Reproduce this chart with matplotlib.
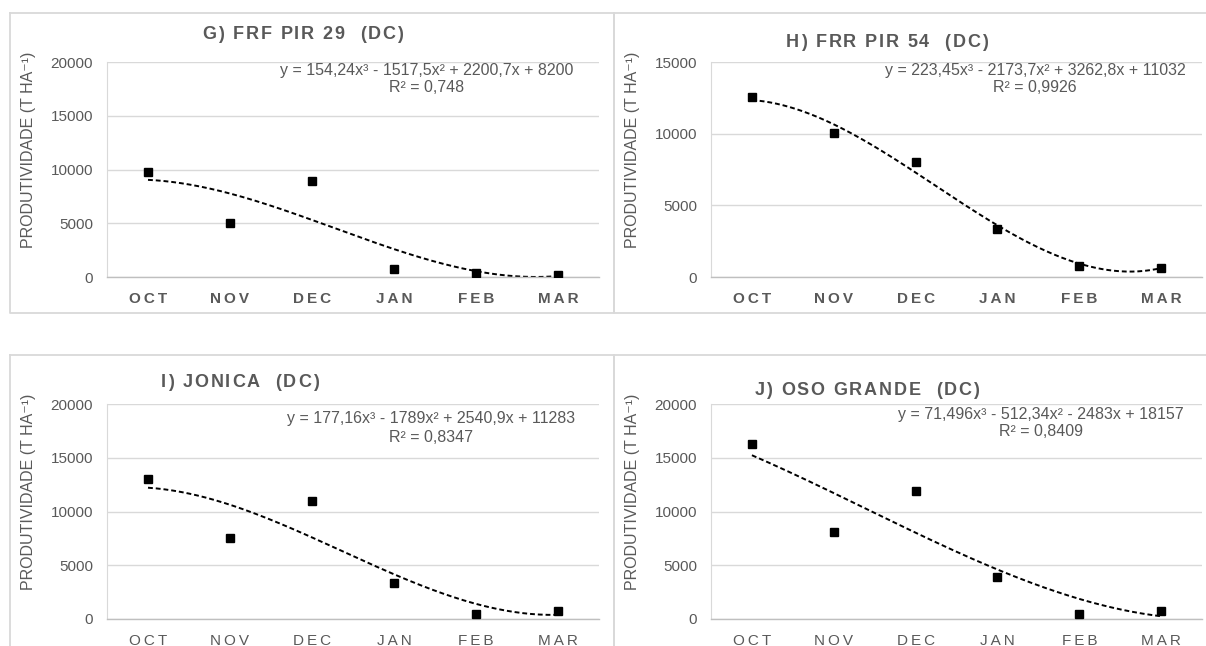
import numpy as np
import matplotlib
matplotlib.use("Agg")
import matplotlib.pyplot as plt
from matplotlib.lines import Line2D
from matplotlib.textpath import TextToPath
from matplotlib.font_manager import FontProperties

plt.rcParams['font.family'] = ['Liberation Sans', 'DejaVu Sans']

months = ["OCT", "NOV", "DEC", "JAN", "FEB", "MAR"]
titles = ["G) FRF PIR 29  (DC)", "H) FRR PIR 54  (DC)",
          "I) JONICA  (DC)", "J) OSO GRANDE  (DC)"]
g_vals = [9780, 5060, 8900, 780, 410, 220]
h_vals = [12540, 10080, 8040, 3330, 800, 660]
i_vals = [13030, 7500, 10940, 3340, 470, 750]
j_vals = [16310, 8060, 11880, 3940, 470, 750]
g_coef = [154.24, -1517.5, 2200.7, 8200]
h_coef = [223.45, -2173.7, 3262.8, 11032]
i_coef = [177.16, -1789, 2540.9, 11283]
j_coef = [71.496, -512.34, -2483, 18157]
equations = ["y = 154,24x³ - 1517,5x² + 2200,7x + 8200",
             "y = 223,45x³ - 2173,7x² + 3262,8x + 11032",
             "y = 177,16x³ - 1789x² + 2540,9x + 11283",
             "y = 71,496x³ - 512,34x² - 2483x + 18157"]
r2_texts = ["R² = 0,748", "R² = 0,9926", "R² = 0,8347", "R² = 0,8409"]
y_max = [20000, 15000, 20000, 20000]
y_step = [5000, 5000, 5000, 5000]
ylabel = "PRODUTIVIDADE (T HA⁻¹)"

W, H = 1206, 646
fig = plt.figure(figsize=(W / 100, H / 100), dpi=100)

def fx(x):
    return x / W

def fy(y):
    return 1 - y / H

ttp = TextToPath()

def spaced_text(xc, ybase, s, size, weight, spacing, color):
    fp = FontProperties(family='Liberation Sans', size=size, weight=weight)
    widths = []
    for c in s:
        w = ttp.get_text_width_height_descent(c, fp, ismath=False)[0]
        widths.append(w * 100 / 72)
    total = sum(widths) + spacing * (len(s) - 1)
    xpos = xc - total / 2
    for c, w in zip(s, widths):
        fig.text(fx(xpos), fy(ybase), c, ha='left', va='baseline',
                 fontproperties=fp, color=color)
        xpos += w + spacing

# panel frames (pixel coords: left, top, right, bottom)
frames = [(10, 13, 614, 313), (614, 13, 1210, 313),
          (10, 355, 614, 660), (614, 355, 1210, 660)]
for (l, t, r, b) in frames:
    xs = [fx(l), fx(r), fx(r), fx(l), fx(l)]
    ys = [fy(t), fy(t), fy(b), fy(b), fy(t)]
    fig.add_artist(Line2D(xs, ys, transform=fig.transFigure,
                          color='#d9d9d9', lw=1.3))

# axes rectangles (pixel coords: left, top, right, bottom)
axes_px = [(107, 62, 599, 277), (711, 62, 1202, 277),
           (107, 404, 599, 619), (711, 404, 1202, 619)]
data = [g_vals, h_vals, i_vals, j_vals]
coefs = [g_coef, h_coef, i_coef, j_coef]
bold_ticks = [True, True, False, False]
title_pos = [(303, 39), (887, 47), (240, 387), (867, 395)]
eq_pos = [(427, 70, 88), (1035, 70, 88), (431, 419, 437), (1041, 414, 432)]
ylabel_x = [29, 633, 29, 633]

gray = '#595959'
sp = '\u2009'

for k in range(4):
    l, t, r, b = axes_px[k]
    ax = fig.add_axes([fx(l), fy(b), fx(r) - fx(l), fy(t) - fy(b)])
    x = np.arange(1, 7)
    ax.set_xlim(0.5, 6.5)
    ax.set_ylim(0, y_max[k])
    ax.set_yticks(np.arange(0, y_max[k] + 1, y_step[k]))
    ax.yaxis.grid(True, color='#d9d9d9', lw=1.0)
    ax.set_axisbelow(True)
    for s in ['top', 'right']:
        ax.spines[s].set_visible(False)
    ax.spines['left'].set_color('#d9d9d9')
    ax.spines['bottom'].set_color('#bfbfbf')
    ax.spines['bottom'].set_linewidth(1.0)
    ax.tick_params(length=0)
    ax.tick_params(axis='y', pad=10, labelsize=11, labelcolor=gray)
    ax.tick_params(axis='x', pad=11, labelsize=11, labelcolor=gray)
    ax.set_xticks(x)
    labels = [sp.join(m) for m in months]
    ax.set_xticklabels(labels, fontweight='bold' if bold_ticks[k] else 'normal')
    # trendline
    xx = np.linspace(1, 6, 200)
    yy = np.polyval(coefs[k], xx)
    ax.plot(xx, yy, color='black', lw=1.4, linestyle=(0, (2.5, 1.5)), zorder=2)
    ax.plot(x, data[k], linestyle='none', marker='s', ms=6,
            color='black', zorder=3)
    # y label
    fig.text(fx(ylabel_x[k]), fy((t + b) / 2 - 20), ylabel, rotation=90,
             ha='center', va='center', fontsize=11.5, color=gray)
    # title
    tx, ty = title_pos[k]
    spaced_text(tx, ty, titles[k], 13, 'bold', 1.8, gray)
    ex, ey1, ey2 = eq_pos[k]
    fig.text(fx(ex), fy(ey1), equations[k], ha='center', va='center',
             fontsize=11.5, color=gray)
    fig.text(fx(ex), fy(ey2), r2_texts[k], ha='center', va='center',
             fontsize=11.5, color=gray)

fig.savefig('out.png', dpi=100, facecolor='white')
